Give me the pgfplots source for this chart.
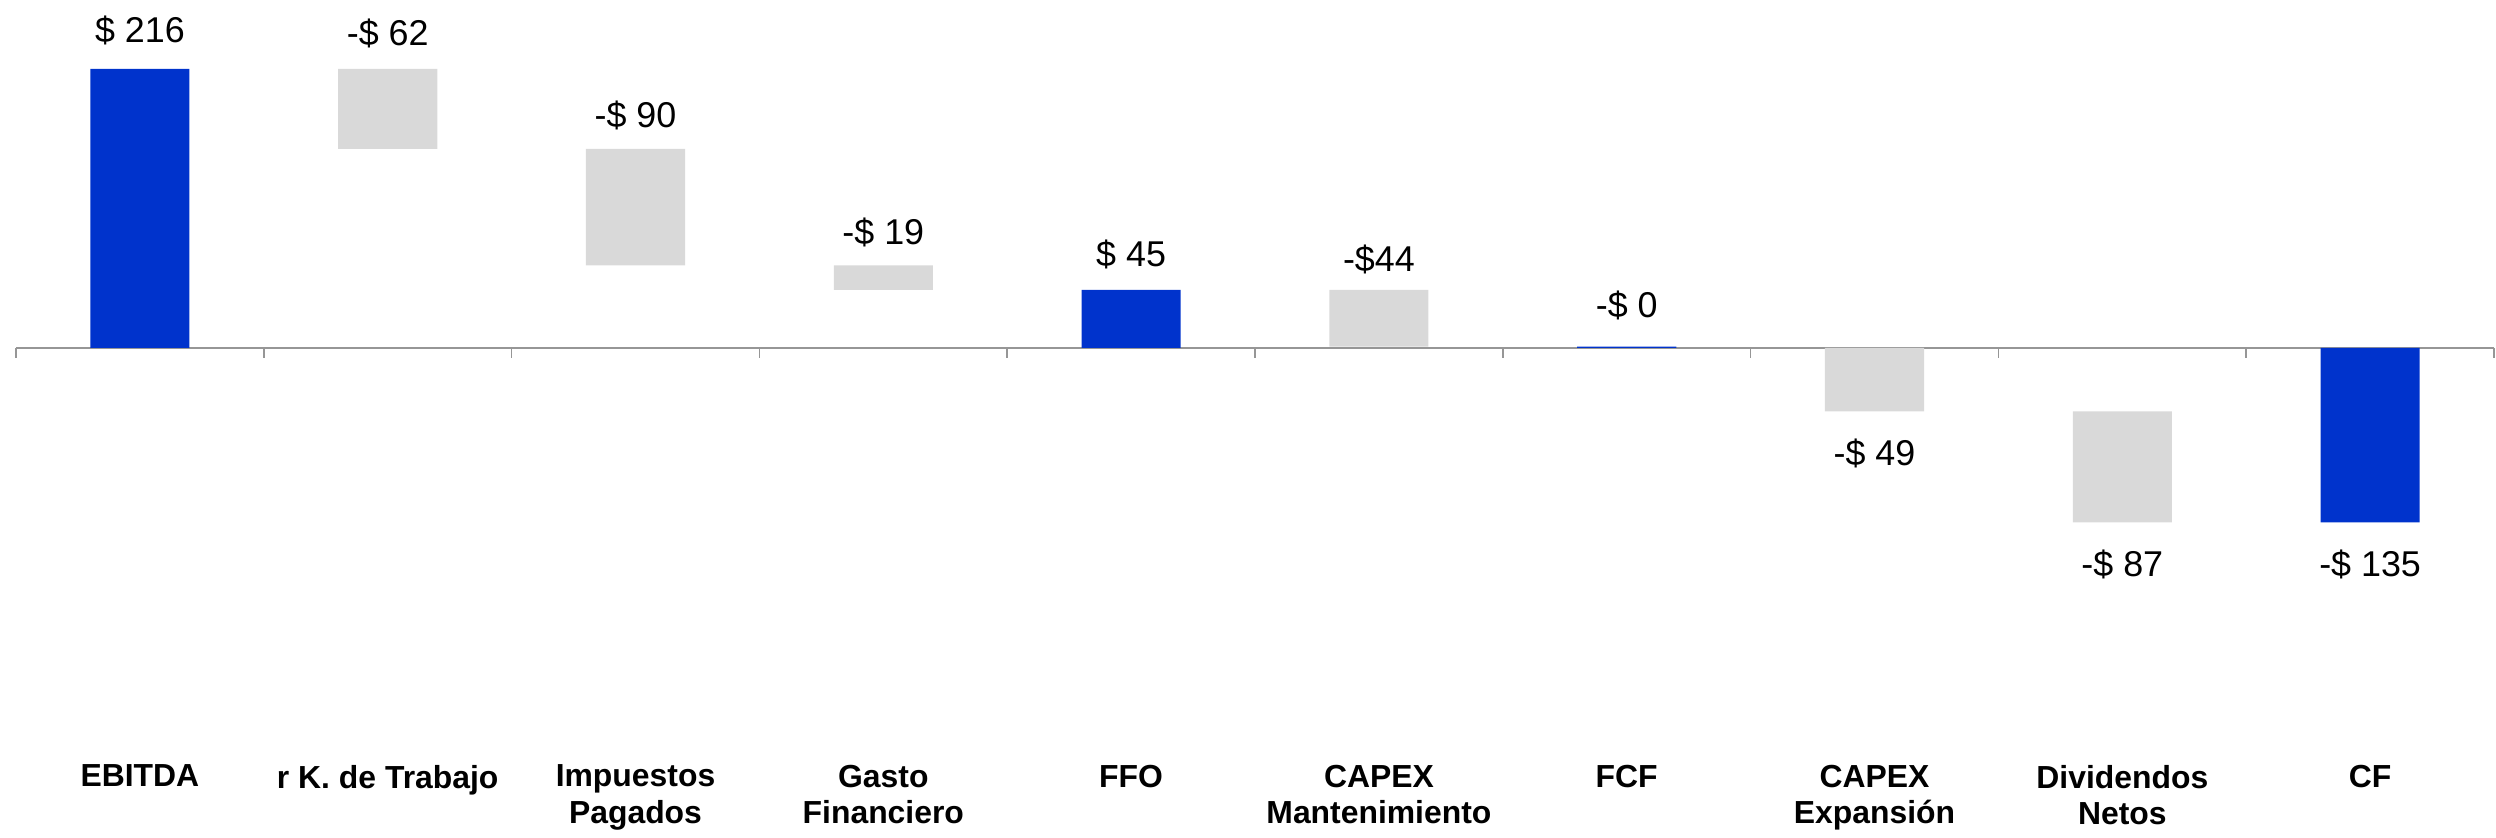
\documentclass[border=0pt]{standalone}
\usepackage{fontspec}
\setmainfont{Liberation Sans}
\usepackage{pgfplots}
\pgfplotsset{compat=1.18}
\usepackage{pgfplotstable}
\definecolor{tblue}{RGB}{0,51,204}
\definecolor{tgray}{RGB}{217,217,217}
\definecolor{axgray}{RGB}{150,150,150}
\tikzset{vlab/.style={font=\fontsize{9}{10}\selectfont, anchor=base}}
\pgfplotstableread{
x base blue gray
0 0 216 0
1 154 0 62
2 64 0 90
3 45 0 19
4 0 45 0
5 1 0 44
6 0 1 0
7 0 0 -49
8 -49 0 -86
9 0 -135 0
}\wf
\begin{document}
\begin{tikzpicture}
\begin{axis}[at={(0,0)}, anchor=south west, scale only axis,
  width=619.5bp, height=188.75bp,
  ybar stacked, bar width=0.4,
  xmin=-0.5, xmax=9.5, ymin=-315.3, ymax=269.0,
  enlargelimits=false, clip=false,
  axis line style={draw=none}, ytick=\empty,
  xtick={0,...,9}, major tick length=0,
  xticklabels={EBITDA, r K. de Trabajo, {Impuestos\\Pagados}, {Gasto\\Financiero}, FFO, {CAPEX\\Mantenimiento}, FCF, {CAPEX\\Expansión}, {Dividendos\\Netos}, CF},
  xticklabel style={align=center, font=\bfseries\fontsize{8}{9.2}\selectfont, inner ysep=0pt, yshift=-2.2bp},
]
\addplot[draw=none, fill=none] table[x=x,y=base]{\wf};
\addplot[draw=none, fill=tblue] table[x=x,y=blue]{\wf};
\addplot[draw=none, fill=tgray] table[x=x,y=gray]{\wf};
\draw[axgray, line width=0.5bp] (axis cs:-0.5,0) -- (axis cs:9.5,0);
\pgfplotsinvokeforeach{-0.5,0.5,1.5,2.5,3.5,4.5,5.5,6.5,7.5,8.5,9.5}{
  \draw[axgray, line width=0.4bp] (axis cs:#1,0) -- ([yshift=-2.4bp]axis cs:#1,0);
}
\node[vlab, yshift=6.5bp] at (axis cs:0,216) {\$ 216};
\node[vlab, yshift=5.8bp] at (axis cs:1,216) {-\$ 62};
\node[vlab, yshift=5.3bp] at (axis cs:2,154) {-\$ 90};
\node[vlab, yshift=5.3bp] at (axis cs:3,64) {-\$ 19};
\node[vlab, yshift=5.8bp] at (axis cs:4,45) {\$ 45};
\node[vlab, yshift=4.5bp] at (axis cs:5,45) {-\$44};
\node[vlab, yshift=7.2bp] at (axis cs:6,1) {-\$ 0};
\node[vlab, yshift=-13.6bp] at (axis cs:7,-49) {-\$ 49};
\node[vlab, yshift=-13.6bp] at (axis cs:8,-135) {-\$ 87};
\node[vlab, yshift=-13.6bp] at (axis cs:9,-135) {-\$ 135};
\end{axis}
\path (-4bp,-20.5bp) rectangle (620bp,188.75bp);
\end{tikzpicture}
\end{document}
